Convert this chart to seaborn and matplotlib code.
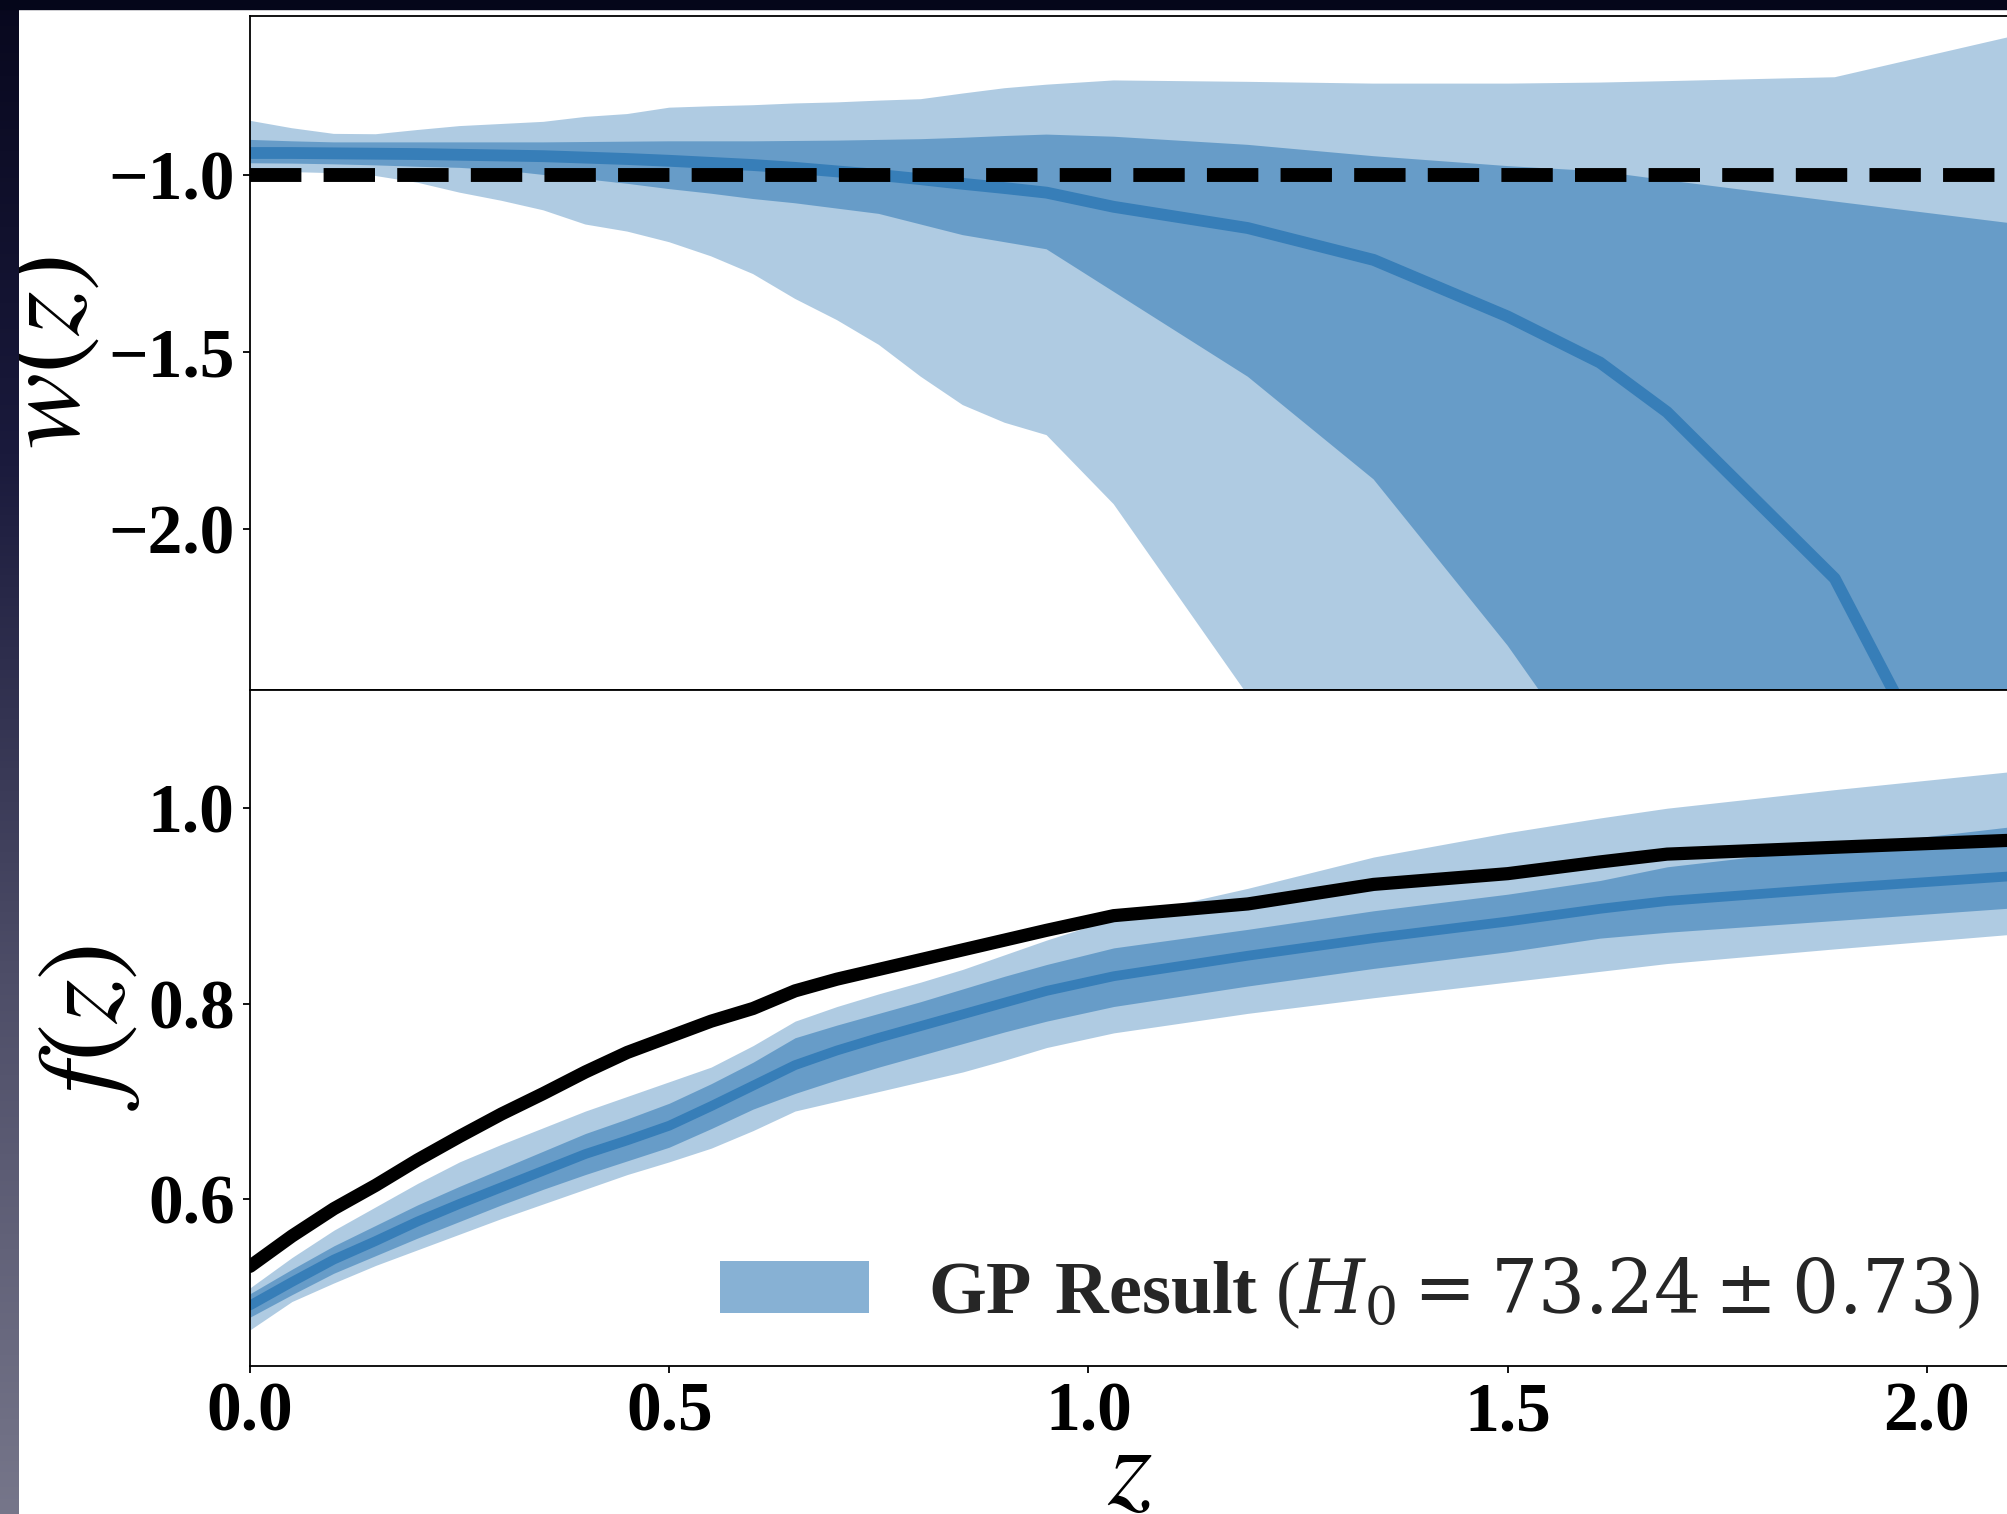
import numpy as np
import matplotlib
matplotlib.use("Agg")
import matplotlib.pyplot as plt
from matplotlib.patches import Rectangle
import seaborn as sns

# Redshift grid of the reconstruction
z = [0.00, 0.05, 0.10, 0.15, 0.20, 0.25, 0.30, 0.35, 0.40, 0.45,
     0.50, 0.55, 0.60, 0.65, 0.70, 0.75, 0.80, 0.85, 0.90, 0.95,
     1.03, 1.19, 1.34, 1.50, 1.61, 1.69, 1.89, 2.30]

# Dark-energy equation of state w(z): mean and 1/2-sigma bounds
w_mean = [-0.938, -0.938, -0.939, -0.940, -0.941, -0.943, -0.945, -0.947, -0.951, -0.955,
          -0.960, -0.966, -0.972, -0.980, -0.990, -1.000, -1.012, -1.025, -1.037, -1.050,
          -1.090, -1.150, -1.240, -1.400, -1.530, -1.670, -2.140, -4.000]
w_hi1 = [-0.901, -0.905, -0.908, -0.908, -0.908, -0.908, -0.908, -0.908, -0.907, -0.906,
         -0.905, -0.905, -0.905, -0.904, -0.903, -0.901, -0.899, -0.895, -0.890, -0.886,
         -0.892, -0.915, -0.947, -0.975, -0.990, -1.015, -1.075, -1.195]
w_lo1 = [-0.967, -0.968, -0.970, -0.973, -0.977, -0.980, -0.987, -1.000, -1.012, -1.025,
         -1.040, -1.053, -1.068, -1.080, -1.095, -1.110, -1.140, -1.170, -1.190, -1.210,
         -1.330, -1.570, -1.860, -2.330, -2.700, -3.000, -3.800, -5.500]
w_hi2 = [-0.847, -0.868, -0.884, -0.885, -0.873, -0.862, -0.856, -0.850, -0.836, -0.828,
         -0.810, -0.806, -0.803, -0.798, -0.795, -0.790, -0.786, -0.770, -0.755, -0.745,
         -0.733, -0.737, -0.742, -0.742, -0.739, -0.735, -0.724, -0.500]
w_lo2 = [-0.990, -0.992, -0.995, -1.003, -1.022, -1.050, -1.073, -1.100, -1.140, -1.160,
         -1.190, -1.230, -1.280, -1.350, -1.410, -1.480, -1.570, -1.650, -1.700, -1.735,
         -1.930, -2.470, -3.000, -3.600, -4.000, -4.300, -5.000, -6.500]

# Growth rate f(z): GP mean, 1/2-sigma bounds and fiducial curve
f_mean = [0.491, 0.515, 0.538, 0.557, 0.577, 0.595, 0.612, 0.629, 0.646, 0.660,
          0.675, 0.695, 0.716, 0.737, 0.752, 0.765, 0.777, 0.789, 0.801, 0.813,
          0.828, 0.849, 0.867, 0.884, 0.897, 0.905, 0.918, 0.942]
f_hi1 = [0.503, 0.528, 0.552, 0.573, 0.594, 0.613, 0.631, 0.649, 0.667, 0.682,
         0.698, 0.718, 0.740, 0.765, 0.778, 0.790, 0.802, 0.815, 0.828, 0.840,
         0.857, 0.876, 0.895, 0.912, 0.926, 0.940, 0.960, 1.001]
f_lo1 = [0.479, 0.502, 0.524, 0.542, 0.560, 0.577, 0.594, 0.610, 0.625, 0.639,
         0.653, 0.672, 0.692, 0.708, 0.722, 0.735, 0.747, 0.759, 0.771, 0.782,
         0.797, 0.818, 0.836, 0.853, 0.867, 0.873, 0.885, 0.910]
f_hi2 = [0.509, 0.540, 0.568, 0.592, 0.616, 0.638, 0.656, 0.673, 0.690, 0.705,
         0.720, 0.735, 0.757, 0.782, 0.797, 0.810, 0.822, 0.835, 0.850, 0.865,
         0.887, 0.918, 0.950, 0.975, 0.990, 1.000, 1.019, 1.055]
f_lo2 = [0.466, 0.495, 0.514, 0.532, 0.548, 0.564, 0.580, 0.595, 0.610, 0.625,
         0.638, 0.652, 0.670, 0.690, 0.700, 0.710, 0.720, 0.730, 0.742, 0.755,
         0.770, 0.790, 0.806, 0.822, 0.833, 0.841, 0.856, 0.885]
f_fid = [0.531, 0.562, 0.590, 0.614, 0.640, 0.664, 0.687, 0.708, 0.730, 0.750,
         0.766, 0.782, 0.795, 0.813, 0.825, 0.835, 0.845, 0.855, 0.865, 0.875,
         0.890, 0.902, 0.922, 0.933, 0.945, 0.953, 0.960, 0.974]

w_ticks = [-1.0, -1.5, -2.0]
f_ticks = [0.6, 0.8, 1.0]
z_ticks = [0.0, 0.5, 1.0, 1.5, 2.0]
legend_label = r"$\mathbf{GP\ Result}$ ($H_0 = 73.24 \pm 0.73$)"

BLUE = "#377eb8"

sns.set_theme(style="ticks")
plt.rcParams.update({
    "font.family": ["Liberation Serif", "DejaVu Serif"],
    "font.weight": "normal",
    "mathtext.fontset": "stix",
    # fonts used by the legend's 'custom' math text
    "mathtext.rm": "DejaVu Serif",
    "mathtext.it": "DejaVu Serif:italic",
    "mathtext.bf": "Liberation Serif:bold",
    "axes.edgecolor": "black",
    "axes.linewidth": 1.3,
    "xtick.color": "black",
    "ytick.color": "black",
    "axes.labelcolor": "black",
})

W, H = 2008, 1514
fig = plt.figure(figsize=(W / 100, H / 100), dpi=100, facecolor="white")

left_px, top_px, mid_px, bot_px = 250, 16, 690, 1366
px_per_z = 838.5
zmax = (2010 - left_px) / px_per_z
ax_w = zmax * px_per_z / W
ax_top = fig.add_axes([left_px / W, 1 - mid_px / H, ax_w, (mid_px - top_px) / H])
ax_bot = fig.add_axes([left_px / W, 1 - bot_px / H, ax_w, (bot_px - mid_px) / H],
                      sharex=ax_top)

# --- upper panel: w(z)
ax_top.fill_between(z, w_lo2, w_hi2, color=BLUE, alpha=0.4, lw=0)
ax_top.fill_between(z, w_lo1, w_hi1, color=BLUE, alpha=0.6, lw=0)
sns.lineplot(x=z, y=w_mean, ax=ax_top, color=BLUE, lw=8.5, sort=False,
             estimator=None, legend=False)
ax_top.axhline(-1.0, color="black", ls="--", lw=10)
ax_top.set_ylim(-2.455, -0.551)
ax_top.set_yticks(w_ticks)
ax_top.set_ylabel(r"$w(z)$", fontsize=82)
ax_top.tick_params(axis="x", bottom=False, labelbottom=False)

# --- lower panel: f(z)
ax_bot.fill_between(z, f_lo2, f_hi2, color=BLUE, alpha=0.4, lw=0)
ax_bot.fill_between(z, f_lo1, f_hi1, color=BLUE, alpha=0.6, lw=0, label=legend_label)
sns.lineplot(x=z, y=f_mean, ax=ax_bot, color=BLUE, lw=7, sort=False,
             estimator=None, legend=False)
sns.lineplot(x=z, y=f_fid, ax=ax_bot, color="black", lw=9.5, sort=False,
             estimator=None, legend=False)
ax_bot.set_ylim(0.429, 1.121)
ax_bot.set_yticks(f_ticks)
ax_bot.set_xlim(0, zmax)
ax_bot.set_xticks(z_ticks)
ax_bot.set_ylabel(r"$f(z)$", fontsize=82)
ax_bot.set_xlabel(r"$z$", fontsize=82, labelpad=-15)

for ax in (ax_top, ax_bot):
    ax.tick_params(direction="out", length=5, width=1.3, pad=6, labelsize=50)
    for lab in ax.get_xticklabels() + ax.get_yticklabels():
        lab.set_fontweight("bold")
    for s in ax.spines.values():
        s.set_linewidth(1.3)
        s.set_color("black")

leg = ax_bot.legend(loc="center left", bbox_to_anchor=(0.267, 0.108),
                    frameon=False, fontsize=53.5, borderpad=0, borderaxespad=0)
for t in leg.get_texts():
    t.set_math_fontfamily("custom")

# dark window surround along the left and top edges
grad_ax = fig.add_axes([0, 0, 19 / W, 1], zorder=20)
stops = np.array([[8, 8, 30], [26, 26, 60], [78, 78, 104], [118, 118, 138]]) / 255
pos = np.array([0.0, 0.3, 0.65, 1.0])
tt = np.linspace(0, 1, 400)
grad = np.stack([np.interp(tt, pos, stops[:, k]) for k in range(3)], axis=-1)
grad_ax.imshow(grad[:, None, :], aspect="auto", extent=(0, 1, 1, 0))
grad_ax.set_axis_off()
fig.add_artist(Rectangle((0, 1 - 9 / H), 1, 9 / H, transform=fig.transFigure,
                         color="#05061a", zorder=21))

fig.savefig("out.png", dpi=100)
